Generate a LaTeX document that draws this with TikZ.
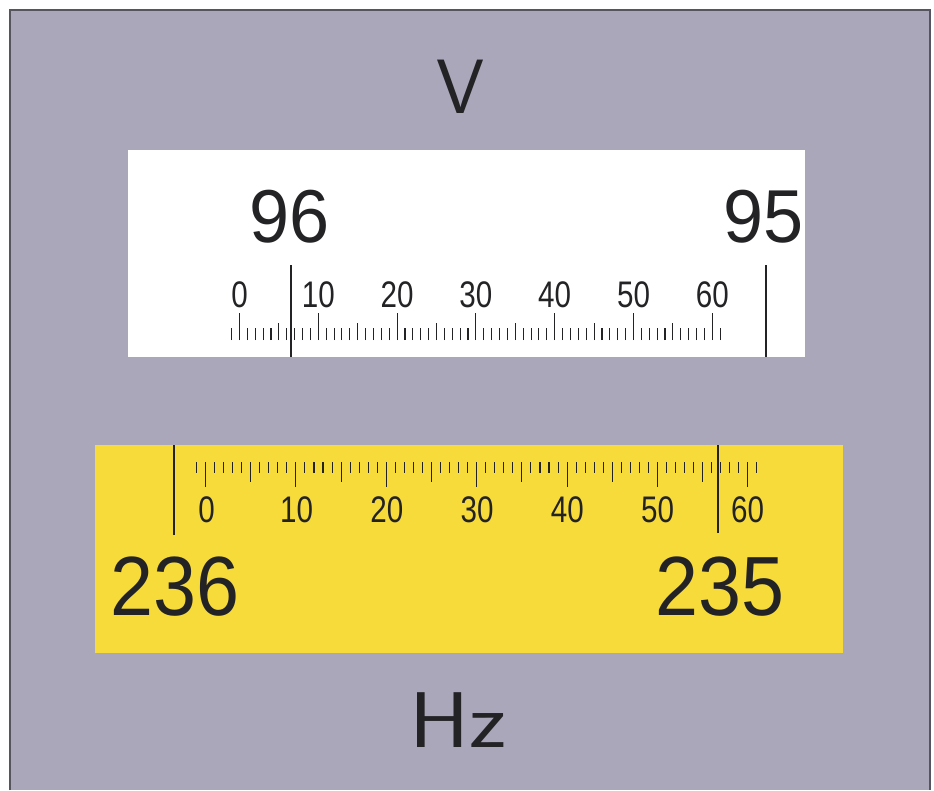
\documentclass[tikz,border=0pt]{standalone}
\usepackage{fontspec}
\newfontfamily\dinbig[FakeStretch=0.96]{Liberation Sans}
\newfontfamily\dinbot[FakeStretch=0.92]{Liberation Sans}
\newfontfamily\dinsmall[FakeStretch=0.8]{Liberation Sans}
\newfontfamily\unitwide[FakeStretch=1.15]{Latin Modern Sans}
\definecolor{panelgrey}{RGB}{170,167,186}
\definecolor{paneyellow}{RGB}{246,219,58}
\definecolor{ink}{RGB}{35,35,38}
\definecolor{framecol}{RGB}{85,84,95}
\begin{document}
\begin{tikzpicture}[x=1pt,y=-1pt,inner sep=0pt,outer sep=0pt,
  bignumtop/.style={anchor=base,text=ink,font=\dinbig\fontsize{75}{80}\selectfont},
  bignumbot/.style={anchor=base,text=ink,font=\dinbot\fontsize{84}{88}\selectfont},
  sclabel/.style={anchor=base,text=ink,font=\dinsmall\fontsize{37}{40}\selectfont},
  unitlabel/.style={anchor=base,text=ink,font=\sffamily\fontsize{77}{80}\selectfont},
  tickline/.style={draw=ink,line width=1.1pt},
  cursorline/.style={draw=ink,line width=1.6pt}]
\useasboundingbox (0,0) rectangle (934,790);
\fill[white] (0,0) rectangle (934,790);
\fill[panelgrey] (10,10) rectangle (930,790);
\draw[framecol,line width=2pt] (10,790) -- (10,10) -- (930,10) -- (930,790);
% units
\node[unitlabel] (V) at (461,113) {V};
\node[unitlabel,font=\unitwide\fontsize{79}{82}\selectfont] (Hz) at (458,747) {Hz};
% white scale
\fill[white] (128,150) rectangle (805,357);
\foreach \i in {-1,...,61} {
  \pgfmathsetmacro\xx{239.5+7.88*\i}
  \pgfmathtruncatemacro\m{mod(\i+10,10)}
  \pgfmathsetmacro\yt{\m==0 ? 313 : (\m==5 ? 323 : 328)}
  \draw[tickline] (\xx,340) -- (\xx,\yt);
}
\foreach \k in {0,...,6} {
  \pgfmathtruncatemacro\lab{10*\k}
  \node[sclabel] (t\k) at ({239.5+78.8*\k},307) {\lab};
}
\coordinate (ta1) at (291,265); \coordinate (tb1) at (291,357);
\coordinate (ta2) at (766,265); \coordinate (tb2) at (766,357);
\draw[cursorline] (ta1) -- (tb1);
\draw[cursorline] (ta2) -- (tb2);
\node[bignumtop] (n96) at (290,242) {96};
\node[bignumtop] (n95) at (764,242) {95};
% yellow scale
\fill[paneyellow] (95,445) rectangle (843,653);
\foreach \i in {-1,...,61} {
  \pgfmathsetmacro\xx{205.5+9.04*\i}
  \pgfmathtruncatemacro\m{mod(\i+10,10)}
  \pgfmathsetmacro\yb{\m==0 ? 487 : (\m==5 ? 482 : 473)}
  \draw[tickline] (\xx,462) -- (\xx,\yb);
}
\foreach \k in {0,...,6} {
  \pgfmathtruncatemacro\lab{10*\k}
  \node[sclabel] (b\k) at ({206.5+90.2*\k},522) {\lab};
}
\coordinate (ba1) at (174,445); \coordinate (bb1) at (174,535);
\coordinate (ba2) at (718,445); \coordinate (bb2) at (718,533);
\draw[cursorline] (ba1) -- (bb1);
\draw[cursorline] (ba2) -- (bb2);
\node[bignumbot] (n236) at (175,615) {236};
\node[bignumbot] (n235) at (720,615) {235};
\end{tikzpicture}
\end{document}
